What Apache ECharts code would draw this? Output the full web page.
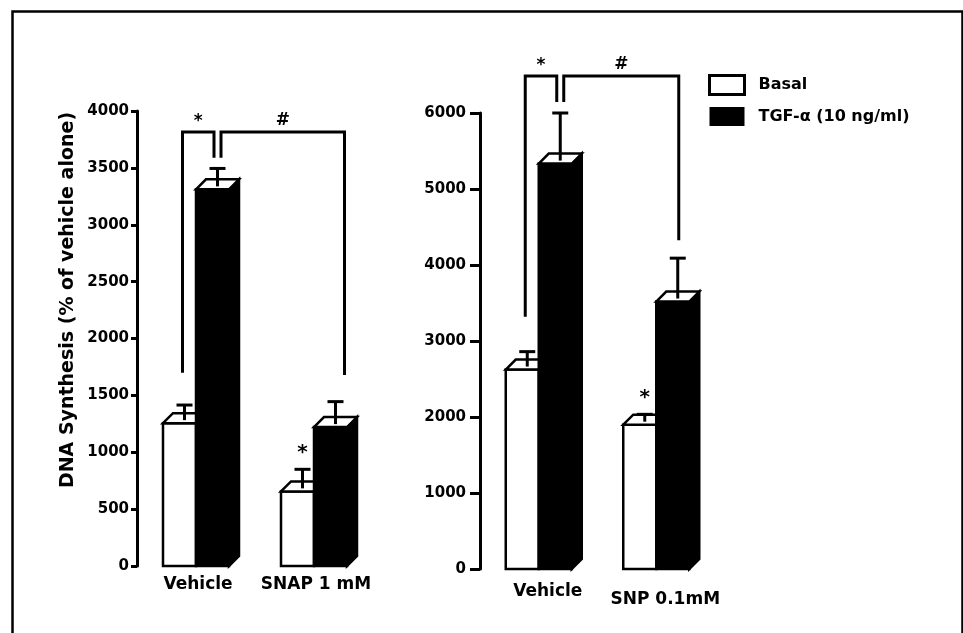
<!DOCTYPE html>
<html><head><meta charset="utf-8">
<script src="https://cdn.jsdelivr.net/npm/echarts@6/dist/echarts.min.js"></script>
<style>html,body{margin:0;padding:0;background:#fff}#c{width:963px;height:633px}</style>
</head><body><div id="c"></div>
<script>
// ---- data ----
var categoriesLeft = ['Vehicle', 'SNAP 1 mM'];
var categoriesRight = ['Vehicle', 'SNP 0.1mM'];
var basalLeft = [1300, 700];
var basalLeftErr = [115, 150];
var tgfLeft = [3355, 1265];
var tgfLeftErr = [140, 180];
var basalRight = [2690, 1965];
var basalRightErr = [170, 70];
var tgfRight = [5400, 3585];
var tgfRightErr = [600, 505];
var basalSigLeft = [0, 1];   // * above basal bar
var basalSigRight = [0, 1];
var yTicksLeft = [0, 500, 1000, 1500, 2000, 2500, 3000, 3500, 4000];
var yTicksRight = [0, 1000, 2000, 3000, 4000, 5000, 6000];
// brackets: [top, left leg bottom, inner legs bottom, right leg bottom]
var bracketLeft = [3815, 1700, 3590, 1680];
var bracketRight = [6486, 3320, 6145, 4327];
var yTitle = 'DNA Synthesis (% of vehicle alone)';
var legendNames = ['Basal', 'TGF-\u03b1 (10 ng/ml)'];

var FONT = 'DejaVu Sans';
var W = 33, D = 10;

function barRender(kind) {
  return function (params, api) {
    var i = api.value(0), v = api.value(1), err = api.value(2), sig = api.value(3);
    var c = api.coord([i, 0]);
    var t = api.coord([i, v]);
    var e = api.coord([i, v + err]);
    var x0 = kind === 'basal' ? c[0] - W : c[0];
    var yb = c[1], yf = t[1] + D / 2;
    var lw = 2.5;
    var ch = [];
    if (kind === 'tgf') {
      ch.push({type: 'polygon', shape: {points: [[x0 + W, yf], [x0 + W + D, yf - D], [x0 + W + D, yb - D], [x0 + W, yb]]},
        style: {fill: '#000', stroke: '#000', lineWidth: lw}});
      ch.push({type: 'rect', shape: {x: x0, y: yf, width: W, height: yb - yf},
        style: {fill: '#000', stroke: '#000', lineWidth: lw}});
    } else {
      ch.push({type: 'rect', shape: {x: x0, y: yf, width: W, height: yb - yf},
        style: {fill: '#fff', stroke: '#000', lineWidth: lw}});
    }
    ch.push({type: 'polygon', shape: {points: [[x0, yf], [x0 + D, yf - D], [x0 + W + D, yf - D], [x0 + W, yf]]},
      style: {fill: '#fff', stroke: '#000', lineWidth: lw}});
    var sx = x0 + W / 2 + D / 2;
    ch.push({type: 'line', shape: {x1: sx, y1: t[1] + 2, x2: sx, y2: e[1]}, style: {stroke: '#000', lineWidth: 3}});
    ch.push({type: 'line', shape: {x1: sx - 8, y1: e[1], x2: sx + 8, y2: e[1]}, style: {stroke: '#000', lineWidth: 3}});
    if (sig) {
      ch.push({type: 'text', x: sx, y: e[1] - 17,
        style: {text: '*', font: 'bold 20px ' + FONT, fill: '#000', align: 'center', verticalAlign: 'middle'}});
    }
    return {type: 'group', children: ch};
  };
}

function bracketRender(rOff) {
  return function (params, api) {
    var top = api.coord([0, api.value(1)])[1];
    var yl = api.coord([0, api.value(2)])[1];
    var yin = api.coord([0, api.value(3)])[1];
    var yr = api.coord([0, api.value(4)])[1];
    var c0 = api.coord([0, 0])[0], c1 = api.coord([1, 0])[0];
    var lx = c0 - W / 2 + 3;
    var stem = c0 + W / 2 + D / 2;
    var inL = stem - 3.5, inR = stem + 3.5;
    var rx = c1 + W / 2 + rOff;
    var st = {stroke: '#000', lineWidth: 3, fill: null};
    var ts = {font: 'bold 17px ' + FONT, fill: '#000', align: 'center', verticalAlign: 'middle'};
    return {type: 'group', children: [
      {type: 'polyline', shape: {points: [[lx, yl], [lx, top], [inL, top], [inL, yin]]}, style: st},
      {type: 'polyline', shape: {points: [[inR, yin], [inR, top], [rx, top], [rx, yr]]}, style: st},
      {type: 'text', x: (lx + inL) / 2, y: top - 10, style: Object.assign({text: '*'}, ts)},
      {type: 'text', x: (inR + rx) / 2, y: top - 11, style: Object.assign({text: '#'}, ts)}
    ]};
  };
}

function toData(vals, errs, sigs) {
  return vals.map(function (v, i) { return [i, v, errs[i], sigs ? sigs[i] : 0]; });
}

function yAxisCfg(idx, ticks, tickLen, margin) {
  return {
    type: 'value', gridIndex: idx,
    min: ticks[0], max: ticks[ticks.length - 1], interval: ticks[1] - ticks[0],
    axisLine: {show: true, lineStyle: {color: '#000', width: 3}},
    axisTick: {show: true, length: tickLen, lineStyle: {color: '#000', width: 3}},
    splitLine: {show: false},
    axisLabel: {color: '#000', fontFamily: FONT, fontWeight: 'bold', fontSize: 15, margin: margin,
      formatter: function (v) { return String(v); }}
  };
}
function xAxisCfg(idx, cats, margin, padLeft, extraTop) {
  return {
    type: 'category', gridIndex: idx,
    data: cats.map(function (c, i) {
      return {value: c, textStyle: {padding: [i === 1 ? extraTop : 0, 0, 0, padLeft]}};
    }),
    axisLine: {show: false}, axisTick: {show: false}, splitLine: {show: false},
    axisLabel: {color: '#000', fontFamily: FONT, fontWeight: 'bold', fontSize: 17, margin: margin,
      interval: 0, hideOverlap: false}
  };
}

var chart = echarts.init(document.getElementById('c'), null, {renderer: 'canvas'});
var basalStyle = {color: '#fff', borderColor: '#000', borderWidth: 3};
var tgfStyle = {color: '#000', borderColor: '#000', borderWidth: 0};

chart.setOption({
  animation: false,
  backgroundColor: '#fff',
  grid: [
    {left: 137, top: 111, width: 236, height: 455},
    {left: 480, top: 113, width: 235, height: 456}
  ],
  xAxis: [xAxisCfg(0, categoriesLeft, 10, 4, 0), xAxisCfg(1, categoriesRight, 14, 18, 8)],
  yAxis: [yAxisCfg(0, yTicksLeft, 6, 8), yAxisCfg(1, yTicksRight, 10, 14)],
  legend: {
    orient: 'vertical', left: 708, top: 74, padding: 0,
    itemWidth: 35, itemHeight: 19, itemGap: 11,
    textStyle: {color: '#000', fontFamily: FONT, fontWeight: 'bold', fontSize: 16, padding: [0, 0, 0, 9]},
    data: [
      {name: legendNames[0], icon: 'rect', itemStyle: basalStyle},
      {name: legendNames[1], icon: 'rect', itemStyle: tgfStyle}
    ]
  },
  graphic: [
    {type: 'rect', left: 10, top: 9, shape: {width: 950, height: 640},
      style: {fill: null, stroke: '#000', lineWidth: 2.5}, silent: true},
    {type: 'text', x: 68, y: 300, rotation: Math.PI / 2,
      style: {text: yTitle, font: 'bold 19px ' + FONT, fill: '#000', align: 'center', verticalAlign: 'middle'}}
  ],
  series: [
    {type: 'custom', name: legendNames[0], xAxisIndex: 0, yAxisIndex: 0, itemStyle: basalStyle,
      encode: {x: 0, y: 1}, renderItem: barRender('basal'), data: toData(basalLeft, basalLeftErr, basalSigLeft)},
    {type: 'custom', name: legendNames[1], xAxisIndex: 0, yAxisIndex: 0, itemStyle: tgfStyle,
      encode: {x: 0, y: 1}, renderItem: barRender('tgf'), data: toData(tgfLeft, tgfLeftErr, null)},
    {type: 'custom', name: legendNames[0], xAxisIndex: 1, yAxisIndex: 1, itemStyle: basalStyle,
      encode: {x: 0, y: 1}, renderItem: barRender('basal'), data: toData(basalRight, basalRightErr, basalSigRight)},
    {type: 'custom', name: legendNames[1], xAxisIndex: 1, yAxisIndex: 1, itemStyle: tgfStyle,
      encode: {x: 0, y: 1}, renderItem: barRender('tgf'), data: toData(tgfRight, tgfRightErr, null)},
    {type: 'custom', name: 'bracketsL', xAxisIndex: 0, yAxisIndex: 0, silent: true,
      encode: {x: 0, y: 1}, renderItem: bracketRender(14), data: [[0].concat(bracketLeft)]},
    {type: 'custom', name: 'bracketsR', xAxisIndex: 1, yAxisIndex: 1, silent: true,
      encode: {x: 0, y: 1}, renderItem: bracketRender(6), data: [[0].concat(bracketRight)]}
  ]
});
</script>
</body></html>
